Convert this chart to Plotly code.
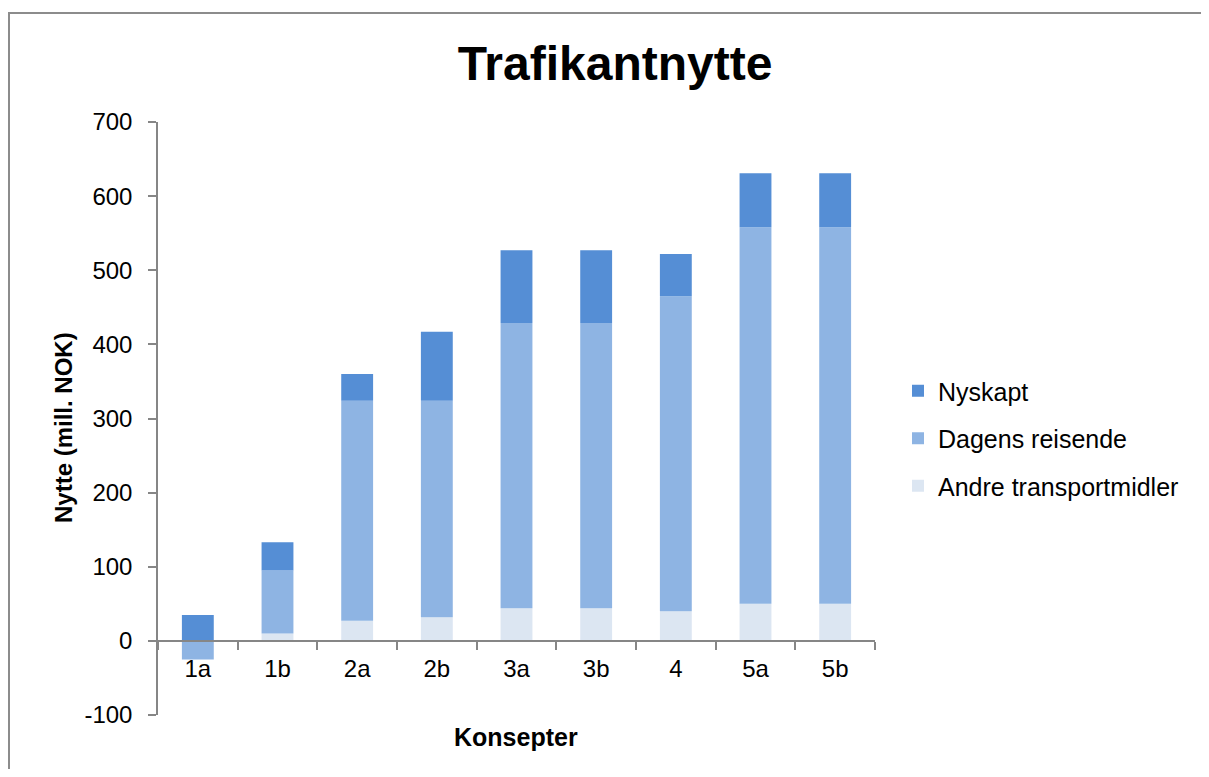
import plotly.graph_objects as go

categories = ["1a", "1b", "2a", "2b", "3a", "3b", "4", "5a", "5b"]
andre = [0, 10, 27, 32, 44, 44, 40, 50, 50]
dagens = [-25, 85, 297, 292, 385, 385, 425, 508, 508]
nyskapt = [35, 38, 36, 93, 98, 98, 57, 73, 73]
y_tickvals = [-100, 0, 100, 200, 300, 400, 500, 600, 700]
y_ticktext = ["-100", "0", "100", "200", "300", "400", "500", "600", "700"]

OFF = 8  # page body margin
W, H = 1193, 761
L, R, T, B = 158 - OFF, 875 - OFF, 122 - OFF, 715 - OFF
pw, ph = R - L, B - T

def px(p):
    return (p - OFF - L) / pw

def py(q):
    return (B - (q - OFF)) / ph

fig = go.Figure()
font = "Liberation Sans, Arial, sans-serif"
specs = [("Andre transportmidler", andre, "#DCE6F2", 3),
         ("Dagens reisende", dagens, "#8EB4E3", 2),
         ("Nyskapt", nyskapt, "#558ED5", 1)]
for name, vals, col, rank in specs:
    fig.add_trace(go.Bar(x=categories, y=vals, name=name, marker_color=col,
                         marker_line_width=0, legendgroup=name, legendrank=rank))

fig.update_layout(
    width=W, height=H,
    margin=dict(l=L, r=W - R, t=T, b=H - B),
    barmode="relative", bargap=0.6,
    plot_bgcolor="white", paper_bgcolor="white",
    font=dict(family=font, size=24, color="black"),
    showlegend=True,
    legend=dict(x=px(898), y=py(368), xanchor="left", yanchor="top",
                traceorder="grouped", tracegroupgap=12,
                font=dict(size=25, family=font)),
    title=dict(text="<b>Trafikantnytte</b>", xref="paper", x=px(615), xanchor="center",
               y=1 - (63 - OFF) / H, yanchor="middle", font=dict(size=48, family=font)),
)
fig.update_yaxes(range=[-100, 700], tickmode="array", tickvals=y_tickvals, ticktext=y_ticktext,
                 showgrid=False, zeroline=False,
                 showline=True, linecolor="#868686", linewidth=1.5,
                 ticks="outside", ticklen=8, tickcolor="#868686", tickwidth=1.5,
                 ticklabelstandoff=11,
                 tickfont=dict(size=24, family=font))
fig.update_xaxes(anchor="free", position=py(641), showgrid=False,
                 showline=True, linecolor="#868686", linewidth=1.5,
                 ticks="outside", tickson="boundaries", ticklen=8,
                 tickcolor="#868686", tickwidth=1.5, ticklabelstandoff=6,
                 tickfont=dict(size=24, family=font))
fig.add_annotation(text="<b>Konsepter</b>", x=px(516), y=py(737), xref="paper", yref="paper",
                   showarrow=False, font=dict(size=25, family=font), xanchor="center", yanchor="middle")
fig.add_annotation(text="<b>Nytte (mill. NOK)</b>", x=px(63), y=py(427), xref="paper", yref="paper",
                   showarrow=False, textangle=-90, font=dict(size=24, family=font),
                   xanchor="center", yanchor="middle")
fig.add_shape(type="rect", xref="paper", yref="paper",
              x0=px(9), x1=px(1230), y0=py(800), y1=py(13),
              line=dict(color="#8C8C8C", width=2), fillcolor="rgba(0,0,0,0)", layer="below")

fig.write_html("out.html")
